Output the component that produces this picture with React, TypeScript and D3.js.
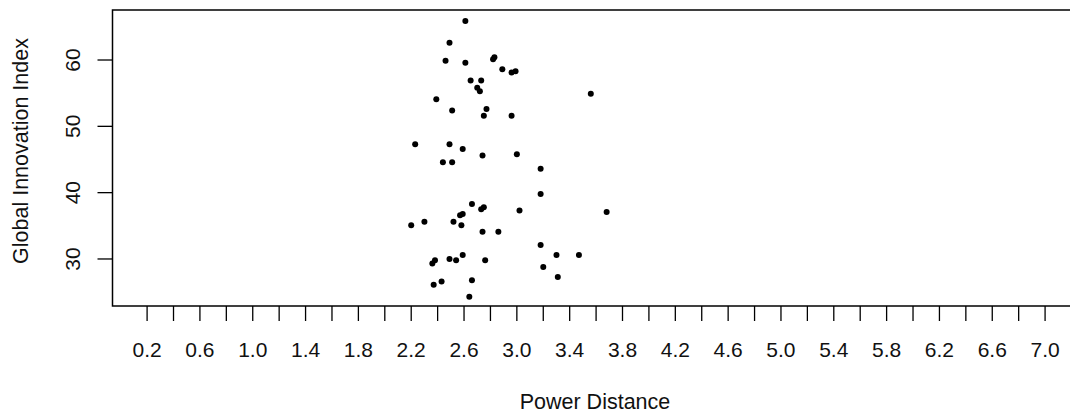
import React from "react";
import * as d3 from "d3";

const powerDistance: number[] = [
  2.61, 2.49, 2.46, 2.61, 2.82, 2.83, 2.89, 2.96, 2.99, 2.65,
  2.73, 2.70, 2.72, 2.39, 2.51, 2.77, 2.75, 2.96, 3.56, 2.23,
  2.49, 2.59, 2.74, 3.00, 2.44, 2.51, 3.18, 3.18, 2.66, 2.73,
  2.75, 3.02, 3.68, 2.20, 2.30, 2.52, 2.57, 2.59, 2.58, 2.74,
  2.86, 3.18, 2.36, 2.38, 2.49, 2.54, 2.59, 2.76, 3.30, 3.47,
  3.20, 2.37, 2.43, 2.66, 3.31, 2.64,
];

const innovationIndex: number[] = [
  65.9, 62.6, 59.9, 59.6, 60.1, 60.4, 58.6, 58.1, 58.3, 56.9,
  56.9, 55.8, 55.3, 54.1, 52.4, 52.6, 51.6, 51.6, 54.9, 47.3,
  47.3, 46.6, 45.6, 45.8, 44.6, 44.6, 43.6, 39.8, 38.3, 37.5,
  37.8, 37.3, 37.1, 35.1, 35.6, 35.6, 36.6, 36.8, 35.1, 34.1,
  34.1, 32.1, 29.3, 29.8, 30.0, 29.8, 30.6, 29.8, 30.6, 30.6,
  28.8, 26.1, 26.6, 26.8, 27.3, 24.3,
];

const xTicks: number[] = d3.range(0, 35).map((i) => +(0.2 + i * 0.2).toFixed(1));
const xLabels: number[] = d3.range(0, 18).map((i) => +(0.2 + i * 0.4).toFixed(1));
const yTicks: number[] = [30, 40, 50, 60];

const W = 1070;
const H = 416;
const left = 112.5;
const right = 1081;
const top = 10;
const bottom = 306;
const font = "'Liberation Sans', Arial, sans-serif";

export default function App() {
  const x = d3.scaleLinear().domain([-0.062, 7.272]).range([left, right]);
  const y = d3.scaleLinear().domain([22.91, 67.54]).range([bottom, top]);
  const pts = powerDistance.map((v, i) => ({ x: v, y: innovationIndex[i] }));

  return (
    <svg
      width={W}
      height={H}
      style={{ position: "absolute", left: 0, top: 0, background: "#fff" }}
      fontFamily={font}
    >
      <rect x={0} y={0} width={W} height={H} fill="#fff" />
      {pts.map((p, i) => (
        <circle key={i} cx={x(p.x)} cy={y(p.y)} r={3} fill="#000" />
      ))}
      <rect
        x={left}
        y={top}
        width={right - left}
        height={bottom - top}
        fill="none"
        stroke="#000"
        strokeWidth={1.5}
      />
      {xTicks.map((t) => (
        <line key={t} x1={x(t)} x2={x(t)} y1={bottom} y2={bottom + 15} stroke="#000" strokeWidth={1.3} />
      ))}
      {xLabels.map((t) => (
        <text key={t} x={x(t)} y={357} textAnchor="middle" fontSize={21} fill="#111">
          {t.toFixed(1)}
        </text>
      ))}
      {yTicks.map((t) => (
        <g key={t}>
          <line x1={left - 15} x2={left} y1={y(t)} y2={y(t)} stroke="#000" strokeWidth={1.3} />
          <text
            transform={`translate(80,${y(t)}) rotate(-90)`}
            textAnchor="middle"
            fontSize={21}
            fill="#111"
          >
            {t}
          </text>
        </g>
      ))}
      <text x={595} y={409} textAnchor="middle" fontSize={21.5} fill="#111">
        Power Distance
      </text>
      <text
        transform={`translate(28,${(top + bottom) / 2 - 7}) rotate(-90)`}
        textAnchor="middle"
        fontSize={21.5}
        fill="#111"
      >
        Global Innovation Index
      </text>
    </svg>
  );
}
